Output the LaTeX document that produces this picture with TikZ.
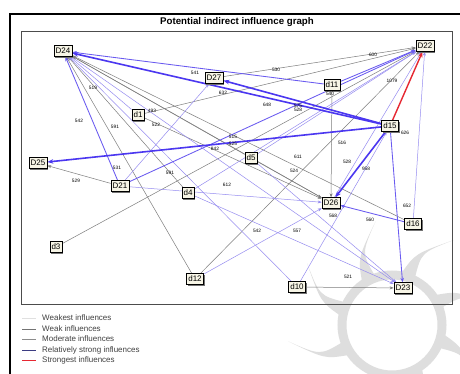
\documentclass[tikz,border=0pt]{standalone}
\usepackage{fontspec}
\setmainfont{Liberation Sans}
\usetikzlibrary{arrows.meta,shadows,calc}
\pgfdeclarelayer{wm}
\pgfdeclarelayer{bg}
\pgfsetlayers{wm,bg,main}
\definecolor{lav}{RGB}{150,140,240}
\definecolor{strongb}{RGB}{75,55,240}
\definecolor{midb}{RGB}{105,90,240}
\definecolor{gline}{RGB}{125,125,125}
\definecolor{nodefill}{RGB}{247,245,230}
\definecolor{redl}{RGB}{230,40,50}
\definecolor{navy}{RGB}{60,60,130}
\definecolor{wmark}{RGB}{222,222,222}
\begin{document}
\begin{tikzpicture}[x=1pt,y=-1pt,
  vnode/.style={draw=black,line width=0.8pt,fill=nodefill,inner sep=1.6pt,minimum height=10.5pt,
    font=\fontsize{8}{8}\selectfont,
    drop shadow={shadow xshift=1.4pt,shadow yshift=-1.4pt,fill=black!55,opacity=1}},
  wk/.style={draw=lav,line width=0.5pt,-{Stealth[length=4pt,width=3pt]}},
  gr/.style={draw=gline,line width=0.5pt,-{Stealth[length=4pt,width=3pt]}},
  md/.style={draw=midb,line width=0.85pt,-{Stealth[length=4.5pt,width=3.5pt]}},
  st/.style={draw=strongb,line width=1.6pt,-{Stealth[length=6pt,width=4.5pt]}},
  rd/.style={draw=redl,line width=1.4pt,-{Stealth[length=6pt,width=4.5pt]}},
  lab/.style={font=\fontsize{4.8}{5}\selectfont,inner sep=0pt},
  legtext/.style={font=\fontsize{8}{8}\selectfont,anchor=west,inner sep=0pt,text=black!75},
  frame/.style={draw=black,line width=1.2pt}
]
\useasboundingbox (0,0) rectangle (460,374);
% watermark
\begin{pgfonlayer}{wm}
\fill[white] (0,0) rectangle (460,374);
\draw[wmark,line width=9pt] (392,325) circle (50);
\foreach \a in {10,55,...,325}{
  \fill[wmark] ($(392,325)+(\a:52)$) .. controls ($(392,325)+(\a+8:75)$) .. ($(392,325)+(\a+26:105)$)
     .. controls ($(392,325)+(\a+12:78)$) .. ($(392,325)+(\a+16:52)$) -- cycle;
}
\end{pgfonlayer}
% frames
\draw[frame] (10,374) -- (10,14) -- (460,14);
\draw[draw=black!70,line width=0.8pt] (21,31) rectangle (452,304);
\node[font=\bfseries\fontsize{9.7}{10}\selectfont,inner sep=0pt] (title) at (237,22) {Potential indirect influence graph};

% nodes
\node[vnode] (D24) at (63,51) {D24};
\node[vnode] (D27) at (214,78) {D27};
\node[vnode] (d1) at (138,115) {d1};
\node[vnode] (D22) at (425,46) {D22};
\node[vnode] (d11) at (332,85) {d11};
\node[vnode] (d15) at (390,126) {d15};
\node[vnode] (D25) at (38,163) {D25};
\node[vnode] (D21) at (120,186) {D21};
\node[vnode] (d4) at (188,193) {d4};
\node[vnode] (d3) at (56,247) {d3};
\node[vnode] (d5) at (251,158) {d5};
\node[vnode] (D26) at (331,203) {D26};
\node[vnode] (d16) at (413,224) {d16};
\node[vnode] (d12) at (195,279) {d12};
\node[vnode] (d10) at (297,287) {d10};
\node[vnode] (D23) at (403,288) {D23};

% edges
\begin{pgfonlayer}{bg}
\draw[gr] (d12) -- (D24);
\draw[gr] (d16) -- (D24);
\draw[gr] (d4) -- (D24);
\draw[gr] (d5) -- (D24);
\draw[gr] (D26) -- (D24);
\draw[gr] (d1) -- (D22);
\draw[gr] (d3) -- (D22);
\draw[gr] (d5) -- (D26);
\draw[gr] (d11) -- (D26);
\draw[gr] (d10) -- (D23);
\draw[gr] (D21) -- (D25);
\draw[gr] (d12) -- (D22);
\draw[gr] (D27) -- (D22);
\draw[gr] (d1) -- (D26);
\draw[wk] (d4) -- (D22);
\draw[wk] (D21) -- (D26);
\draw[wk] (d4) -- (D23);
\draw[wk] (d12) -- (D26);
\draw[wk] (d16) -- (D22);
\draw[wk] (d10) -- (d15);
\draw[wk] (d10) -- (D24);
\draw[wk] (d5) -- (D23);
\draw[wk] (d5) -- (D22);
\draw[wk] (D21) -- (D27);
\draw[wk] (D26) -- (D22);
\draw[wk] (D24) -- (D23);
\draw[wk] (d1) -- (D24);
\draw[md] (d15) -- (D23);
\draw[md] (d11) -- (D24);
\draw[md] (D21) -- (D24);
\draw[md] (d16) -- (D26);
\draw[md] (d11) -- (D22);
\draw[md] (D21) -- (D22);
\draw[st] (d15) -- (D24);
\draw[st] (d15) -- (D27);
\draw[st] (d15) -- (D25);
\draw[st] (d15) -- (D26);
\draw[rd] (d15) -- (D22);
\end{pgfonlayer}

% edge labels
\node[lab] (l1) at (195,73) {541};
\node[lab] (l2) at (223,93) {632};
\node[lab] (l3) at (93,88) {519};
\node[lab] (l4) at (152,111) {493};
\node[lab] (l5) at (79,121) {542};
\node[lab] (l6) at (115,127) {591};
\node[lab] (l7) at (156,125) {522};
\node[lab] (l8) at (276,70) {530};
\node[lab] (l9) at (373,55) {600};
\node[lab] (l10) at (392,81) {1079};
\node[lab] (l11) at (330,94) {540};
\node[lab] (l12) at (267,105) {648};
\node[lab] (l13) at (298,106) {575};
\node[lab] (l14) at (298,110) {528};
\node[lab] (l15) at (405,133) {626};
\node[lab] (l16) at (233,137) {515};
\node[lab] (l17) at (233,144) {525};
\node[lab] (l18) at (215,149) {842};
\node[lab] (l19) at (298,157) {611};
\node[lab] (l20) at (342,143) {516};
\node[lab] (l21) at (347,162) {528};
\node[lab] (l22) at (366,169) {958};
\node[lab] (l23) at (294,171) {524};
\node[lab] (l24) at (407,206) {652};
\node[lab] (l25) at (333,216) {568};
\node[lab] (l26) at (370,220) {560};
\node[lab] (l27) at (257,231) {542};
\node[lab] (l28) at (297,231) {557};
\node[lab] (l29) at (348,277) {521};
\node[lab] (l30) at (117,168) {531};
\node[lab] (l31) at (76,181) {529};
\node[lab] (l32) at (170,173) {591};
\node[lab] (l33) at (227,185) {612};

% legend
\coordinate (a1) at (22,318); \coordinate (b1) at (36,318);
\coordinate (a2) at (22,329); \coordinate (b2) at (36,329);
\coordinate (a3) at (22,339); \coordinate (b3) at (36,339);
\coordinate (a4) at (22,350); \coordinate (b4) at (36,350);
\coordinate (a5) at (22,360); \coordinate (b5) at (36,360);
\draw[black!12,line width=0.8pt] (a1) -- (b1);
\draw[black!55,line width=0.8pt] (a2) -- (b2);
\draw[black!45,line width=0.8pt] (a3) -- (b3);
\draw[navy,line width=0.9pt] (a4) -- (b4);
\draw[redl,line width=0.9pt] (a5) -- (b5);
\node[legtext] (t1) at (42,318) {Weakest influences};
\node[legtext] (t2) at (42,329) {Weak influences};
\node[legtext] (t3) at (42,339) {Moderate influences};
\node[legtext] (t4) at (42,350) {Relatively strong influences};
\node[legtext] (t5) at (42,360) {Strongest influences};
\end{tikzpicture}
\end{document}
